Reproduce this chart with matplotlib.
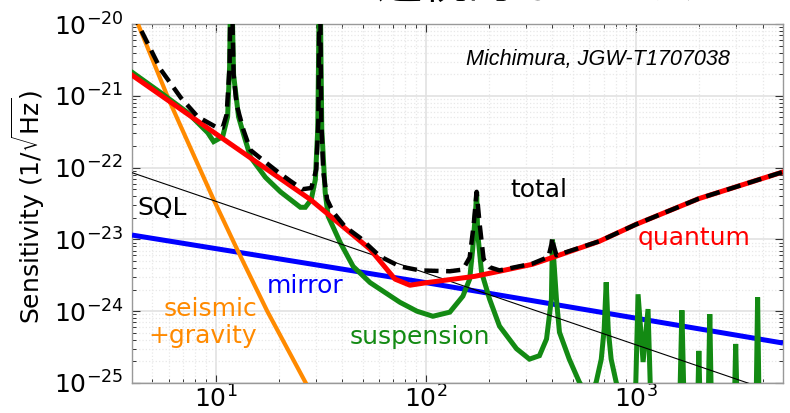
import matplotlib
matplotlib.use("Agg")
import matplotlib.pyplot as plt
from matplotlib.ticker import LogLocator, NullFormatter

plt.rcParams['font.family'] = ['DejaVu Sans', 'Noto Sans CJK JP']
plt.rcParams['axes.unicode_minus'] = False
plt.rcParams['mathtext.default'] = 'regular'

# ---------------- data ----------------
quantum_f = [4, 10, 28.2, 54.3, 71.3, 84, 101, 171, 224, 321, 400, 668, 1000, 1990, 5000]
quantum_h = [1.94e-21, 2.97e-22, 3.6e-23, 7.3e-24, 2.8e-24, 2.3e-24, 2.5e-24, 3.06e-24,
             3.6e-24, 4.5e-24, 5.6e-24, 9.4e-24, 1.62e-23, 3.7e-23, 8.7e-23]

seismic_f = [4, 4.27, 5.99, 9.78, 12.85, 17.6, 26.7, 35.1]
seismic_h = [1.56e-20, 1.0e-20, 8.8e-22, 3.59e-23, 6.6e-24, 1.0e-24, 1.03e-25, 2.2e-26]

sql_f = [4, 5000]
sql_h = [8.5e-23, 6.8e-26]

mirror_f = [4, 100, 5000]
mirror_h = [1.15e-23, 2.5e-24, 3.6e-25]

susp_f = [4.04, 5.49, 7.37, 9.17, 9.78, 10.8, 11.4, 11.65, 11.84, 12.17, 12.85, 13.58,
          14.65, 17.26, 20.33, 25.3, 26.7, 28.5, 29.8, 30.6, 31.3, 31.98, 33.2, 34.3,
          39.1, 45.1, 54.3, 75.3, 90.7, 108, 130, 150, 161.6, 167, 172.6, 174.4, 176.3,
          184, 201, 224, 270, 311, 347, 375, 395.6, 400, 418, 432, 481, 537, 599,
          646, 683, 705, 721, 737, 761, 804, 880, 989, 1022, 1080, 1140, 1178,
          1610, 1652, 1695, 1960, 1989, 2020, 2200, 2242, 2285, 2930, 2978, 3030,
          3720, 3786, 3850, 5000]
susp_h = [2.09e-21, 1.10e-21, 5.81e-22, 3.06e-22, 2.30e-22, 2.70e-22, 5.11e-22, 2.53e-21,
          1e-19, 1.96e-21, 5.1e-22, 2.9e-22,
          1.4e-22, 7.3e-23, 4.6e-23, 2.8e-23, 2.8e-23, 3.6e-23, 6.8e-23, 3.4e-22, 1e-19,
          3.4e-22, 4.5e-23, 2.1e-23,
          9.1e-24, 4.2e-24, 2.5e-24, 1.33e-24, 1.0e-24, 8.5e-25, 9.7e-25, 1.62e-24,
          2.8e-24, 7.3e-24, 2.6e-23, 4.6e-23, 1.25e-23,
          3.5e-24, 1.47e-24, 6.2e-25, 3.0e-25, 2.15e-25, 2.4e-25, 4.1e-25, 1.47e-24,
          1.0e-23, 1.47e-24, 5.1e-25, 2.15e-25, 1.03e-25, 6e-26,
          1.03e-25, 2.15e-25, 5.6e-25, 2.53e-24, 5.6e-25, 2.15e-25, 1.03e-25, 4e-26,
          4e-26, 1.72e-24, 1.96e-25, 1.07e-24, 4e-26,
          4e-26, 1.03e-24, 4e-26, 4e-26, 2.8e-25, 4e-26, 4e-26, 9.1e-25, 4e-26,
          4e-26, 3.5e-25, 4e-26,
          4e-26, 1.56e-24, 4e-26, 4e-26]

total_f = [4, 4.27, 4.41, 5.49, 6.83, 8.22, 10, 10.8, 11.28, 11.65, 11.84, 12.17, 12.58,
           13.58, 14.65, 16.89, 19.67, 22.68, 25.85, 28.5, 30.1, 30.8, 31.3, 31.8, 32.5,
           33.9, 36.2, 41.3, 48.7, 60.5, 75.3, 93.7, 130, 150, 161.6, 168.9, 174.4,
           180.3, 188.3, 201, 224, 321.5, 383, 395.6, 400, 404.3, 418, 668, 1000, 1990, 5000]
total_h = [1.5e-20, 1.0e-20, 8.3e-21, 2.3e-21, 9.4e-22, 5.1e-22, 3.7e-22, 3.6e-22, 5.5e-22,
           2.6e-21, 1e-19, 2.0e-21, 7.5e-22,
           3.3e-22, 1.75e-22, 1.25e-22, 8.8e-23, 6.5e-23, 5.0e-23, 5.2e-23, 9.4e-23, 4.6e-22,
           1e-19, 4.6e-22, 8.8e-23,
           3.6e-23, 2.4e-23, 1.5e-23, 1.05e-23, 5.8e-24, 4.2e-24, 3.7e-24, 3.6e-24, 3.8e-24,
           5.6e-24, 1.62e-23, 4.6e-23,
           1.62e-23, 5.3e-24, 4.1e-24, 3.7e-24, 4.6e-24, 5.7e-24, 8.5e-24, 1.07e-23, 8.5e-24,
           6.0e-24, 9.4e-24, 1.62e-23, 3.7e-23, 8.7e-23]

x_ticks = [10, 100, 1000]
y_ticks = [1e-25, 1e-24, 1e-23, 1e-22, 1e-21, 1e-20]
y_label = 'Sensitivity (1/$\\sqrt{\\mathrm{Hz}}$)'
title_text = '連続的なノイズ'
credit_text = 'Michimura, JGW-T1707038'

# ---------------- figure ----------------
fig = plt.figure(figsize=(7.9, 4.13), dpi=100)
ax = fig.add_axes([132/790, 1-383/413, 651/790, 359/413])
ax.set_xscale('log')
ax.set_yscale('log')
ax.set_xlim(4, 5000)
ax.set_ylim(1e-25, 1e-20)

GREEN = '#138a13'
ORANGE = '#ff8a00'
BLUE = '#0000ff'
RED = '#ff0000'

ax.plot(mirror_f, mirror_h, color=BLUE, lw=3.6, zorder=3, solid_capstyle='butt')
ax.plot(seismic_f, seismic_h, color=ORANGE, lw=3.0, zorder=3)
ax.plot(susp_f, susp_h, color=GREEN, lw=3.6, zorder=4, solid_joinstyle='miter')
ax.plot(sql_f, sql_h, color='black', lw=0.8, zorder=5)
ax.plot(quantum_f, quantum_h, color=RED, lw=3.6, zorder=6)
ax.plot(total_f, total_h, color='black', lw=3.2, ls=(0, (3.2, 1.7)), zorder=7)

# grid
ax.set_xticks(x_ticks)
ax.set_yticks(y_ticks)
ax.xaxis.set_minor_locator(LogLocator(base=10, subs=range(2, 10), numticks=20))
ax.yaxis.set_minor_locator(LogLocator(base=10, subs=range(2, 10), numticks=20))
ax.xaxis.set_minor_formatter(NullFormatter())
ax.yaxis.set_minor_formatter(NullFormatter())
ax.grid(True, which='major', color='#e2e2e2', lw=1.2, ls='-', zorder=0)
ax.grid(True, which='minor', color='#e8e8e8', lw=0.9, ls=':', zorder=0)
ax.set_axisbelow(True)

ax.tick_params(which='both', direction='in', top=True, right=True, colors='#333333',
               labelcolor='black', labelsize=18)
ax.tick_params(which='major', length=6, width=0.8, pad=6)
ax.tick_params(axis='x', which='major', pad=2)
ax.tick_params(which='minor', length=3, width=0.7)
for s in ax.spines.values():
    s.set_color('#999999')
    s.set_linewidth(1.0)

ax.set_ylabel(y_label, fontsize=18)
ax.yaxis.set_label_coords(-0.131, 0.49)

# curve labels
ax.text(0.625, 0.538, 'total', transform=ax.transAxes, fontsize=18, color='black',
        ha='center', va='center')
ax.text(0.009, 0.487, 'SQL', transform=ax.transAxes, fontsize=18, color='black',
        ha='left', va='center')
ax.text(0.777, 0.404, 'quantum', transform=ax.transAxes, fontsize=18, color=RED,
        ha='left', va='center')
ax.text(0.207, 0.27, 'mirror', transform=ax.transAxes, fontsize=18, color=BLUE,
        ha='left', va='center')
ax.text(0.192, 0.168, 'seismic\n+gravity', transform=ax.transAxes, fontsize=18,
        color=ORANGE, ha='right', va='center', multialignment='right', linespacing=1.15)
ax.text(0.335, 0.128, 'suspension', transform=ax.transAxes, fontsize=18, color=GREEN,
        ha='left', va='center')
ax.text(0.513, 0.90, credit_text, transform=ax.transAxes, fontsize=15.6, style='italic',
        family=['Liberation Sans'], color='black', ha='left', va='center')

fig.text(0.68, 1 - 9/413, title_text, fontsize=33, family=['Noto Sans CJK JP'],
         ha='center', va='bottom', color='black')

fig.savefig('out.png', dpi=100, facecolor='white')
